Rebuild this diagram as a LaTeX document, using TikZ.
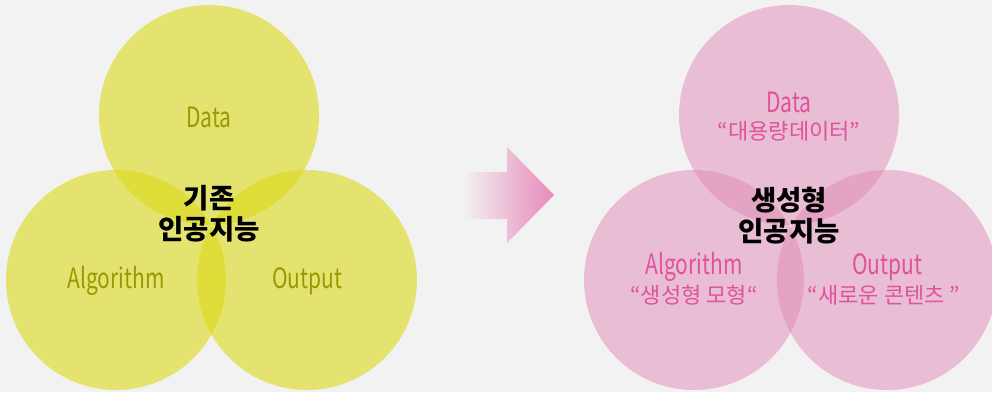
\documentclass[tikz,border=0pt]{standalone}
\usepackage{fontspec}
\setmainfont{Noto Sans CJK KR}
\newfontfamily\krlat[FakeStretch=0.75]{Noto Sans CJK KR}
\definecolor{bg}{RGB}{242,242,242}
\definecolor{ylw}{RGB}{220,218,20}
\definecolor{pnk}{RGB}{226,138,182}
\definecolor{olive}{RGB}{156,152,0}
\definecolor{pinktxt}{RGB}{224,82,155}
\definecolor{arrowpink}{RGB}{230,138,186}
\tikzset{
  ycirc/.style={circle, minimum size=220pt, inner sep=0pt, fill=ylw, fill opacity=0.585, draw=none},
  pcirc/.style={circle, minimum size=220pt, inner sep=0pt, fill=pnk, fill opacity=0.5, draw=none},
  lab/.style={font=\krlat\fontsize{28}{30}\selectfont, inner sep=0pt},
  krlab/.style={font=\fontsize{22}{26}\selectfont, inner sep=0pt},
  title/.style={font=\bfseries\fontsize{27.5}{34}\selectfont, align=center, inner sep=0pt, text=black}
}
\begin{document}
\begin{tikzpicture}[x=1pt,y=-1pt]
\fill[bg] (0,0) rectangle (992,392);
\useasboundingbox (0,0) rectangle (992,392);
% left venn
\node[ycirc] (ld) at (209,115) {};
\node[ycirc] (la) at (116,280) {};
\node[ycirc] (lo) at (307,280) {};
\node[lab, text=olive] (ldt) at (209,117) {Data};
\node[lab, text=olive] (lat) at (116,281) {Algorithm};
\node[lab, text=olive] (lot) at (307,281) {Output};
\node[title] (lt) at (209,214) {기존\\[-3pt]인공지능};
% arrow
\shade[left color=bg, right color=arrowpink] (463,172) -- (507,172) -- (507,147) -- (554,195) -- (507,243) -- (507,219) -- (463,219) -- cycle;
% right venn
\node[pcirc] (rd) at (789,115) {};
\node[pcirc] (ra) at (694,280) {};
\node[pcirc] (ro) at (887,280) {};
\node[lab, text=pinktxt] (rdt) at (789,102) {Data};
\node[krlab, text=pinktxt] (rdk) at (789,131) {“대용량데이터”};
\node[lab, text=pinktxt] (rat) at (694,267) {Algorithm};
\node[krlab, text=pinktxt] (rak) at (694,295) {“생성형 모형“};
\node[lab, text=pinktxt] (rot) at (887,267) {Output};
\node[krlab, text=pinktxt] (rok) at (884,295) {“새로운 콘텐츠 ”};
\node[title] (rt) at (789,216) {생성형\\[-3pt]인공지능};
\end{tikzpicture}
\end{document}
